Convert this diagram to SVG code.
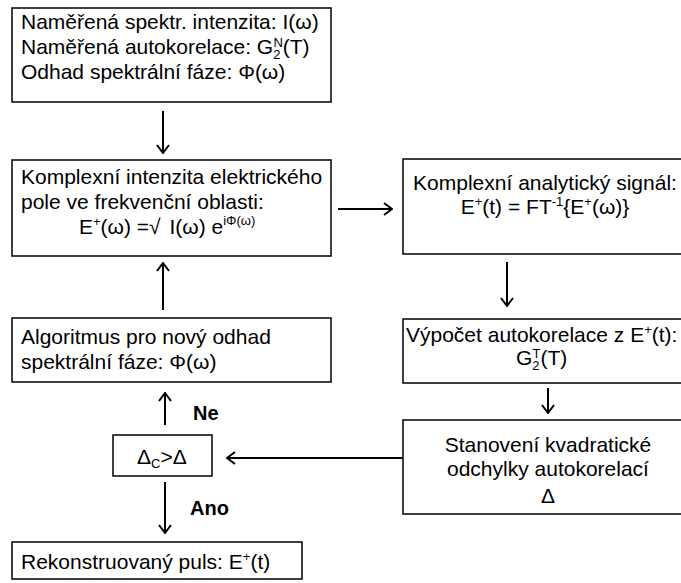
<svg xmlns="http://www.w3.org/2000/svg" width="681" height="583" viewBox="0 0 681 583">
<style>
.box{fill:#fff;stroke:#000;stroke-width:1.5}
.t{font-family:"Liberation Sans",Arial,sans-serif;font-size:21px;fill:#000}
.c{text-anchor:middle}
.b{font-weight:bold;font-size:20px}
.sup{font-size:13px}
.ln{stroke:#000;stroke-width:2;fill:none;marker-end:url(#ah)}
</style>
<defs>
<marker id="ah" viewBox="0 0 10 14" refX="9" refY="7" markerWidth="10" markerHeight="14" markerUnits="userSpaceOnUse" orient="auto">
<polyline points="1,1 9,7 1,13" fill="none" stroke="#000" stroke-width="2"/>
</marker>
</defs>
<rect width="681" height="583" fill="#fff"/>
<g id="connectors">
<line class="ln" x1="163" y1="111" x2="163" y2="153"/>
<line class="ln" x1="338" y1="209" x2="392" y2="209"/>
<line class="ln" x1="507" y1="262" x2="507" y2="306"/>
<line class="ln" x1="548" y1="388" x2="548" y2="413"/>
<line class="ln" x1="163" y1="310" x2="163" y2="263"/>
<line class="ln" x1="165" y1="425" x2="165" y2="393"/>
<line class="ln" x1="403" y1="458" x2="227" y2="458"/>
<line class="ln" x1="165" y1="482" x2="165" y2="533"/>
<text class="t b" x="193" y="420">Ne</text>
<text class="t b" x="190" y="515">Ano</text>
</g>
<g id="n1">
<rect class="box" x="12" y="8" width="319" height="94"/>
<text class="t" x="21" y="29">Naměřená spektr. intenzita: I(ω)</text>
<text class="t" x="21" y="54">Naměřená autokorelace: G<tspan class="sup" dy="5">2</tspan><tspan class="sup" dx="-7" dy="-12">N</tspan><tspan dy="7">(T)</tspan></text>
<text class="t" x="21" y="79">Odhad spektrální fáze: Φ(ω)</text>
</g>
<g id="n2">
<rect class="box" x="12" y="160" width="319" height="96"/>
<text class="t" x="21" y="184">Komplexní intenzita elektrického</text>
<text class="t" x="21" y="209">pole ve frekvenční oblasti:</text>
<text class="t" x="79" y="234">E<tspan class="sup" dy="-8">+</tspan><tspan dy="8">(ω) =√ </tspan><tspan dx="3">I(ω) e</tspan><tspan class="sup" dy="-9">iΦ(ω)</tspan></text>
</g>
<g id="n3">
<rect class="box" x="403" y="159" width="290" height="95"/>
<text class="t c" x="545" y="190">Komplexní analytický signál:</text>
<text class="t c" x="545" y="214">E<tspan class="sup" dy="-8">+</tspan><tspan dy="8">(t) = FT</tspan><tspan class="sup" dy="-8">-1</tspan><tspan dy="8">{E</tspan><tspan class="sup" dy="-8">+</tspan><tspan dy="8">(ω)}</tspan></text>
</g>
<g id="n4">
<rect class="box" x="403" y="319" width="290" height="64"/>
<text class="t" x="406" y="342">Výpočet autokorelace z E<tspan class="sup" dy="-8">+</tspan><tspan dy="8">(t):</tspan></text>
<text class="t" x="516" y="365">G<tspan class="sup" dy="5">2</tspan><tspan class="sup" dx="-7" dy="-12">T</tspan><tspan dy="7">(T)</tspan></text>
</g>
<g id="n5">
<rect class="box" x="403" y="420" width="290" height="94"/>
<text class="t c" x="548" y="452">Stanovení kvadratické</text>
<text class="t c" x="548" y="476">odchylky autokorelací</text>
<text class="t c" x="548" y="503">Δ</text>
</g>
<g id="n6">
<rect class="box" x="12" y="318" width="319" height="64"/>
<text class="t" x="21" y="344">Algoritmus pro nový odhad</text>
<text class="t" x="21" y="369">spektrální fáze: Φ(ω)</text>
</g>
<g id="n7">
<rect class="box" x="113" y="435" width="99" height="41"/>
<text class="t" x="137" y="464">Δ<tspan class="sup" dy="4">C</tspan><tspan dy="-4">&gt;Δ</tspan></text>
</g>
<g id="n8">
<rect class="box" x="12" y="542" width="290" height="37"/>
<text class="t" x="21" y="569">Rekonstruovaný puls: E<tspan class="sup" dy="-8">+</tspan><tspan dy="8">(t)</tspan></text>
</g>
</svg>
